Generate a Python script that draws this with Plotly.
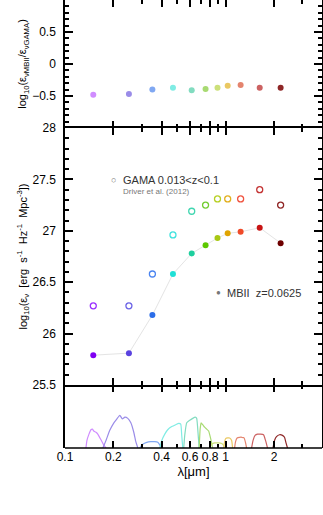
import plotly.graph_objects as go
from plotly.subplots import make_subplots

# band effective wavelengths (micron) and luminosity densities
bands = ["FUV", "NUV", "u", "g", "r", "i", "z", "Y", "J", "H", "K"]
wavelength = [0.15, 0.25, 0.35, 0.47, 0.615, 0.75, 0.89, 1.03, 1.24, 1.63, 2.2]
mbii = [25.79, 25.81, 26.18, 26.58, 26.78, 26.86, 26.93, 26.975, 26.99, 27.03, 26.88]
gama = [26.27, 26.27, 26.58, 26.96, 27.19, 27.25, 27.31, 27.31, 27.31, 27.40, 27.25]
ratio = [-0.48, -0.47, -0.40, -0.37, -0.41, -0.39, -0.37, -0.34, -0.33, -0.37, -0.37]

band_colors = ["#7f00f2", "#5a42e0", "#2b6de8", "#1fe0d6", "#1ecf9e", "#5cc800",
               "#a8c814", "#e0a400", "#f04a28", "#c81414", "#6e0000"]
open_colors = ["#9a30ff", "#6a62e6", "#4a84f0", "#40e2de", "#40d6b0", "#72cc30",
               "#b8d026", "#e2b020", "#f05440", "#c43434", "#902626"]
light_colors = ["#d08cff", "#9a8ce8", "#80a8f2", "#80ece4", "#82dcc0", "#a8da72",
                "#cce07a", "#eac862", "#e4846e", "#cc6262", "#8e2626"]

# filter transmission curves (micron, relative throughput)
filter_lam = [
    [0.135, 0.137, 0.141, 0.145, 0.148, 0.151, 0.156, 0.160, 0.165, 0.170, 0.174, 0.180],
    [0.172, 0.180, 0.190, 0.2015, 0.210, 0.2195, 0.2275, 0.236, 0.246, 0.257, 0.268, 0.276, 0.284],
    [0.292, 0.305, 0.323, 0.342, 0.362, 0.378, 0.389, 0.400],
    [0.389, 0.4005, 0.418, 0.436, 0.462, 0.489, 0.511, 0.5255, 0.533, 0.541],
    [0.5485, 0.5564, 0.5725, 0.598, 0.624, 0.647, 0.6605, 0.675, 0.6845],
    [0.6845, 0.694, 0.704, 0.720, 0.740, 0.762, 0.784, 0.807, 0.8305],
    [0.7955, 0.8185, 0.8545, 0.9045, 0.9445, 0.972, 0.986],
    [0.972, 0.986, 1.0, 1.029, 1.059, 1.09, 1.105],
    [1.137, 1.153, 1.179, 1.222, 1.266, 1.303, 1.331, 1.35],
    [1.451, 1.482, 1.525, 1.581, 1.650, 1.722, 1.772, 1.823],
    [1.972, 2.016, 2.074, 2.165, 2.259, 2.326, 2.376, 2.427],
]
filter_tr = [
    [0, 0.12, 0.22, 0.29, 0.30, 0.27, 0.25, 0.22, 0.16, 0.10, 0.05, 0],
    [0, 0.12, 0.28, 0.40, 0.46, 0.52, 0.46, 0.49, 0.47, 0.40, 0.25, 0.10, 0],
    [0, 0.06, 0.09, 0.10, 0.10, 0.09, 0.05, 0],
    [0, 0.12, 0.22, 0.29, 0.34, 0.37, 0.39, 0.38, 0.20, 0],
    [0, 0.20, 0.40, 0.44, 0.47, 0.49, 0.47, 0.20, 0],
    [0, 0.30, 0.40, 0.37, 0.33, 0.30, 0.27, 0.15, 0],
    [0, 0.06, 0.08, 0.08, 0.07, 0.04, 0],
    [0, 0.10, 0.15, 0.16, 0.16, 0.12, 0],
    [0, 0.10, 0.16, 0.17, 0.17, 0.16, 0.08, 0],
    [0, 0.12, 0.20, 0.22, 0.22, 0.21, 0.12, 0],
    [0, 0.12, 0.18, 0.21, 0.20, 0.17, 0.08, 0],
]

xticks = [0.1, 0.2, 0.4, 0.6, 0.8, 1, 2]
xticktext = ["0.1", "0.2", "0.4", "0.6", "0.8", "1", "2"]
xminor = [0.3, 0.5, 0.7, 0.9, 3]

FONT = "Liberation Sans, Arial, sans-serif"

fig = make_subplots(rows=3, cols=1, shared_xaxes=True, vertical_spacing=0,
                    row_heights=[128, 257, 63])

# top: ratio
fig.add_hline(y=0, line=dict(color="#bdbdbd", width=1), row=1, col=1)
fig.add_trace(go.Scatter(x=wavelength, y=ratio, mode="markers",
                         marker=dict(color=light_colors, size=6),
                         showlegend=False), row=1, col=1)

# middle: GAMA (open) and MBII (filled, joined)
fig.add_trace(go.Scatter(x=wavelength, y=gama, mode="markers",
                         marker=dict(symbol="circle-open", color=open_colors, size=6,
                                     line=dict(width=1.3)),
                         showlegend=False), row=2, col=1)
fig.add_trace(go.Scatter(x=wavelength, y=mbii, mode="lines+markers",
                         line=dict(color="#e4e4e4", width=1),
                         marker=dict(color=band_colors, size=6),
                         showlegend=False), row=2, col=1)

# bottom: filter curves
for lam, tr, c in zip(filter_lam, filter_tr, light_colors):
    fig.add_trace(go.Scatter(x=lam, y=tr, mode="lines",
                             line=dict(color=c, width=1.2, shape="spline", smoothing=0.4),
                             showlegend=False), row=3, col=1)

axis_line = dict(showline=True, linecolor="black", linewidth=1.5,
                 showgrid=False, zeroline=False, automargin=False)
xcommon = dict(type="log", range=[-1, 0.6], tickvals=xticks, ticktext=xticktext,
               ticks="inside", ticklen=7, tickwidth=1.5, tickcolor="black",
               mirror="ticks",
               minor=dict(tickvals=xminor, ticks="inside", ticklen=4,
                          tickwidth=1.5, tickcolor="black", showgrid=False),
               **axis_line)

fig.update_xaxes(**xcommon)
# only the middle panel draws the shared border lines (avoids doubled borders);
# the other panels add their inside ticks on both edges
fig.update_xaxes(showline=False, showticklabels=False, row=1, col=1)
fig.update_xaxes(showticklabels=False, row=2, col=1)
fig.update_xaxes(showline=False, showticklabels=True, row=3, col=1,
                 tickfont=dict(family=FONT, size=12, color="black"),
                 title=dict(text="λ[μm]", font=dict(family=FONT, size=13, color="black"),
                            standoff=2))
fig.add_shape(type="line", xref="x3 domain", yref="y3 domain", x0=0, x1=1, y0=0, y1=0,
              line=dict(color="black", width=1.5), layer="above")

ycommon = dict(ticks="inside", ticklen=8, tickwidth=1.5, tickcolor="black",
               mirror="ticks", ticklabelstandoff=5,
               tickfont=dict(family=FONT, size=12, color="black"),
               **axis_line)

fig.update_yaxes(range=[-1, 1], tickvals=[-0.5, 0, 0.5], ticktext=["−0.5", "0", "0.5"],
                 minor=dict(dtick=0.1, ticks="inside", ticklen=4, tickwidth=1.5,
                            tickcolor="black", showgrid=False),
                 title=dict(text="log<sub>10</sub>(ε<sub>νMBII</sub>/ε<sub>νGAMA</sub>)",
                            font=dict(family=FONT, size=11, color="black"), standoff=3),
                 row=1, col=1, **ycommon)
fig.update_yaxes(range=[25.5, 28], tickvals=[25.5, 26, 26.5, 27, 27.5, 28],
                 ticktext=["25.5", "26", "26.5", "27", "27.5", "28"],
                 minor=dict(dtick=0.1, tick0=25.5, ticks="inside", ticklen=4, tickwidth=1.5,
                            tickcolor="black", showgrid=False),
                 title=dict(text="log<sub>10</sub>(ε<sub>ν</sub>  [erg  s<sup>-1</sup>  Hz<sup>-1</sup>  Mpc<sup>-3</sup>])",
                            font=dict(family=FONT, size=11, color="black"), standoff=3),
                 row=2, col=1, **ycommon)
fig.update_yaxes(range=[0, 1], showticklabels=False, ticks="", mirror=True,
                 row=3, col=1, **axis_line)


# legend text
def px_x(p):
    return (p - 65) / 257


def px_y(p):
    return (448 - p) / 448


notes = [
    (113, 180, "○", 9, "#777777", "center"),
    (121, 180, "GAMA 0.013&lt;z&lt;0.1", 11, "#333333", "left"),
    (121, 191, "Driver et al. (2012)", 8, "#777777", "left"),
    (218, 292.5, "●", 8, "#777777", "center"),
    (225, 292.5, "MBII  z=0.0625", 11, "#333333", "left"),
]
for xp, yp, txt, sz, col, anc in notes:
    fig.add_annotation(x=px_x(xp), y=px_y(yp), xref="paper", yref="paper",
                       text=txt, showarrow=False, xanchor=anc, yanchor="middle",
                       font=dict(family=FONT, size=sz, color=col))

fig.update_layout(width=323, height=515, margin=dict(l=65, r=1, t=0, b=67),
                  plot_bgcolor="white", paper_bgcolor="white", showlegend=False)

# page body has a default 8px margin; drop it so the figure sits at the window corner
fig.write_html("out.html", config={"displayModeBar": False},
               post_script="document.body.style.margin='0';")
